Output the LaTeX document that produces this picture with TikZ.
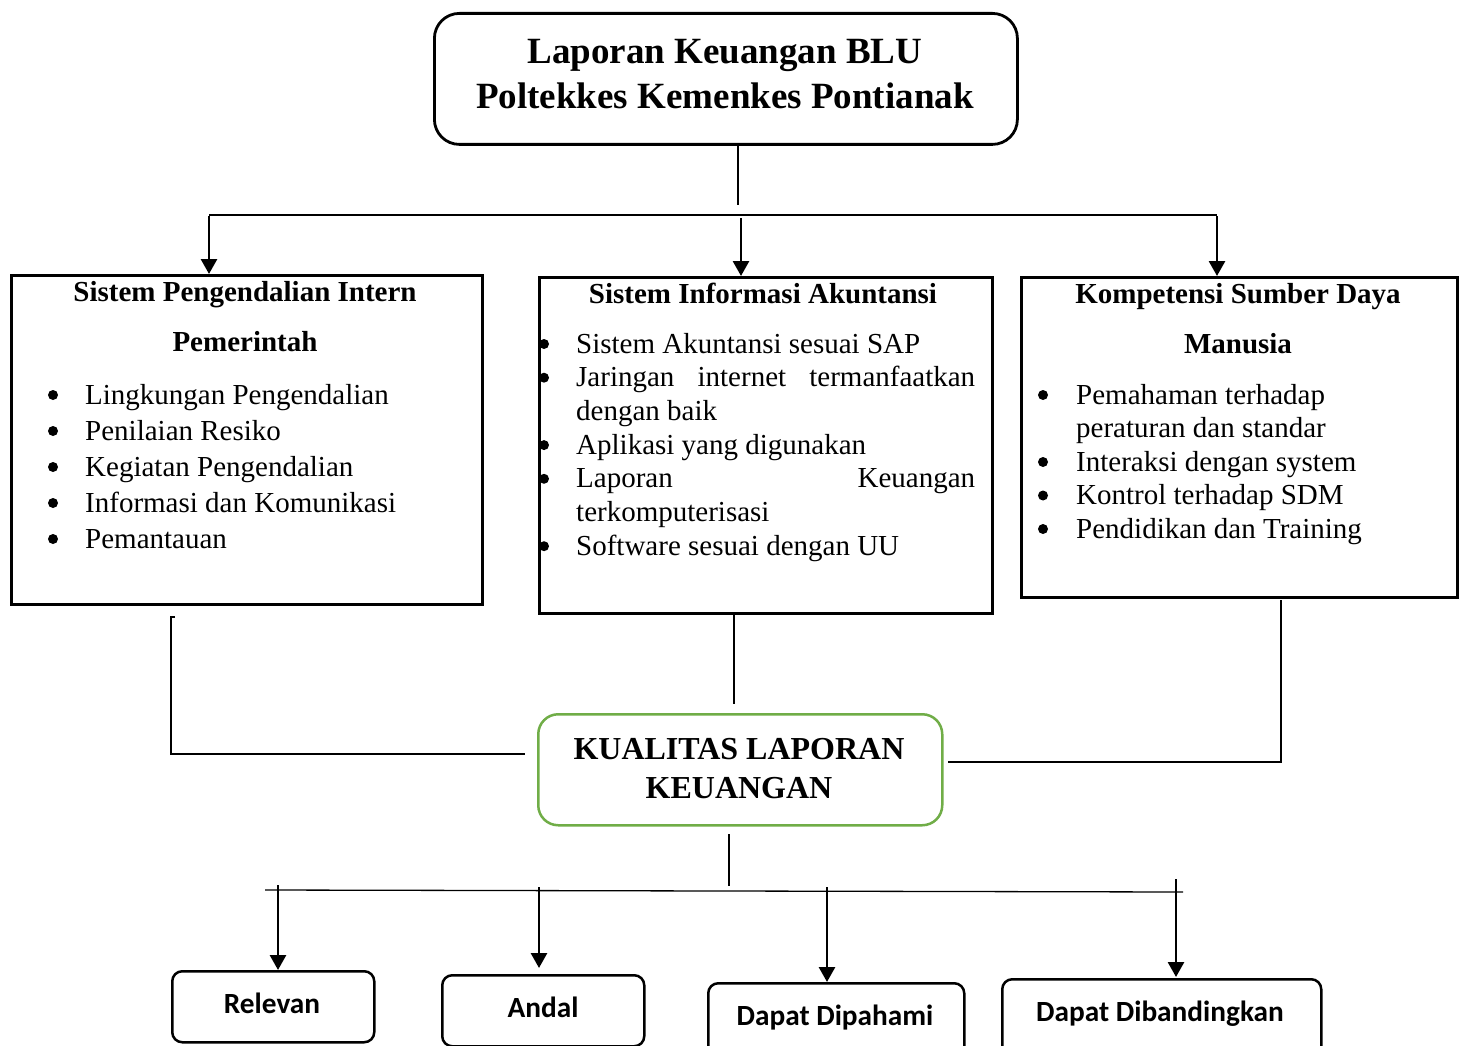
\documentclass[tikz,border=0pt]{standalone}
\usepackage{fontspec}
\setmainfont{Liberation Serif}
\newfontfamily\calib{Carlito}
\usetikzlibrary{arrows.meta}
\definecolor{kgreen}{HTML}{70AD47}
\begin{document}
\begin{tikzpicture}[x=1pt,y=-1pt,
  box/.style={draw, line width=2.5pt, inner sep=0pt, anchor=north west},
  rbox/.style={box, rounded corners=#1},
  arr/.style={line width=2.8pt, -{Triangle[width=16pt,length=15pt]}},
  conn/.style={line width=1.3pt},
  txt/.style={inner sep=0pt, anchor=base},
  head/.style={txt, font=\fontsize{29}{36}\selectfont\bfseries},
  lst/.style={inner sep=0pt, anchor=base west},
  low/.style={txt, font=\fontsize{29.3}{32}\selectfont\calib\bfseries},
  bulletdot/.style={fill=black}
]
\useasboundingbox (0,0) rectangle (1464,1046);
\fill[white] (0,0) rectangle (1464,1046);
\clip (0,0) rectangle (1464,1046);

% top box
\node[rbox=25pt, line width=2.8pt, minimum width=583pt, minimum height=131pt] (top) at (433,12) {};
\node[txt, font=\fontsize{37}{45}\selectfont\bfseries] (top1) at (725,64) {Laporan Keuangan BLU};
\node[txt, font=\fontsize{37}{45}\selectfont\bfseries] (top2) at (725,109) {Poltekkes Kemenkes Pontianak};

% three boxes
\node[box, minimum width=471pt, minimum height=329pt] (b1) at (10,274) {};
\node[box, minimum width=453pt, minimum height=336pt] (b2) at (538,276) {};
\node[box, minimum width=436pt, minimum height=320pt] (b3) at (1020,276) {};

\node[head] (h1a) at (245,301) {Sistem Pengendalian Intern};
\node[head] (h1b) at (245,351) {Pemerintah};
\node[lst] (l1) at (85,404) {\parbox[t]{380pt}{\fontsize{29}{36}\selectfont
Lingkungan Pengendalian\\
Penilaian Resiko\\
Kegiatan Pengendalian\\
Informasi dan Komunikasi\\
Pemantauan}};
\foreach \yy in {395,431,467,503,539} \fill[bulletdot] (53,\yy) circle[radius=5pt];

\node[head] (h2) at (763,303) {Sistem Informasi Akuntansi};
\node[lst] (l2) at (576,353) {\parbox[t]{400pt}{\fontsize{29}{33.7}\selectfont
Sistem Akuntansi sesuai SAP\\
\makebox[399pt][s]{Jaringan internet termanfaatkan}\\
dengan baik\\
Aplikasi yang digunakan\\
\makebox[399pt][s]{Laporan Keuangan}\\
terkomputerisasi\\
Software sesuai dengan UU}};
\foreach \yy in {344,377.7,445.1,478.8,546.2} \fill[bulletdot] (544,\yy) circle[radius=5pt];

\node[head] (h3a) at (1238,303) {Kompetensi Sumber Daya};
\node[head] (h3b) at (1238,353) {Manusia};
\node[lst] (l3) at (1076,404) {\parbox[t]{370pt}{\fontsize{29}{33.5}\selectfont
Pemahaman terhadap\\
peraturan dan standar\\
Interaksi dengan system\\
Kontrol terhadap SDM\\
Pendidikan dan Training}};
\foreach \yy in {395,462,495.5,529} \fill[bulletdot] (1043,\yy) circle[radius=5pt];

% top connectors
\coordinate (t1) at (738,205);
\draw[conn] (top.south -| t1) -- (t1);
\coordinate (hl) at (209,215);
\coordinate (hr) at (1217,215);
\draw[conn] (hl) -- (hr);
\coordinate (a1) at (209,216);
\coordinate (a2) at (741,218);
\coordinate (a3) at (1217,216);
\draw[arr] (a1) -- (a1 |- b1.north);
\draw[arr] (a2) -- (a2 |- b2.north);
\draw[arr] (a3) -- (a3 |- b3.north);

% KUALITAS box
\node[rbox=20pt, draw=kgreen, minimum width=404pt, minimum height=111pt] (kq) at (537,713) {};
\node[txt, font=\fontsize{32}{38}\selectfont\bfseries] (kq1) at (739,759) {KUALITAS LAPORAN};
\node[txt, font=\fontsize{32}{38}\selectfont\bfseries] (kq2) at (739,798) {KEUANGAN};

% connectors to KUALITAS
\coordinate (c1a) at (175,617);
\coordinate (c1b) at (171,617);
\coordinate (c1c) at (171,754);
\coordinate (c1d) at (525,754);
\draw[conn] (c1a) -- (c1b) -- (c1c) -- (c1d);
\coordinate (c2a) at (734,614);
\coordinate (c2b) at (734,704);
\draw[conn] (c2a) -- (c2b);
\coordinate (c3a) at (1281,600);
\coordinate (c3b) at (1281,762);
\coordinate (c3c) at (948,762);
\draw[conn] (c3a) -- (c3b) -- (c3c);

% bottom boxes
\node[rbox=10pt, minimum width=202pt, minimum height=71pt] (r1) at (171,970) {};
\node[rbox=10pt, minimum width=202pt, minimum height=71pt] (r2) at (441,974) {};
\node[rbox=10pt, minimum width=256pt, minimum height=90pt] (r3) at (707,982) {};
\node[rbox=10pt, minimum width=319pt, minimum height=90pt] (r4) at (1001,978) {};
\node[low] (r1t) at (272,1013) {Relevan};
\node[low] (r2t) at (543,1017) {Andal};
\node[low] (r3t) at (835,1025) {Dapat Dipahami};
\node[low] (r4t) at (1160,1021) {Dapat Dibandingkan};

% bottom connectors
\coordinate (d00) at (729,834);
\coordinate (d0) at (729,886);
\draw[conn] (d00) -- (d0);
\coordinate (dl) at (265,890);
\coordinate (dr) at (1183,892);
\draw[conn] (dl) -- (dr);
\coordinate (e1) at (278,885);
\coordinate (e2) at (539,887);
\coordinate (e3) at (827,887);
\coordinate (e4) at (1176,879);
\coordinate (f2) at (539,968);
\coordinate (f4) at (1176,977);
\draw[arr] (e1) -- (e1 |- r1.north);
\draw[arr] (e2) -- (f2);
\draw[arr] (e3) -- (e3 |- r3.north);
\draw[arr] (e4) -- (f4);
\end{tikzpicture}
\end{document}
